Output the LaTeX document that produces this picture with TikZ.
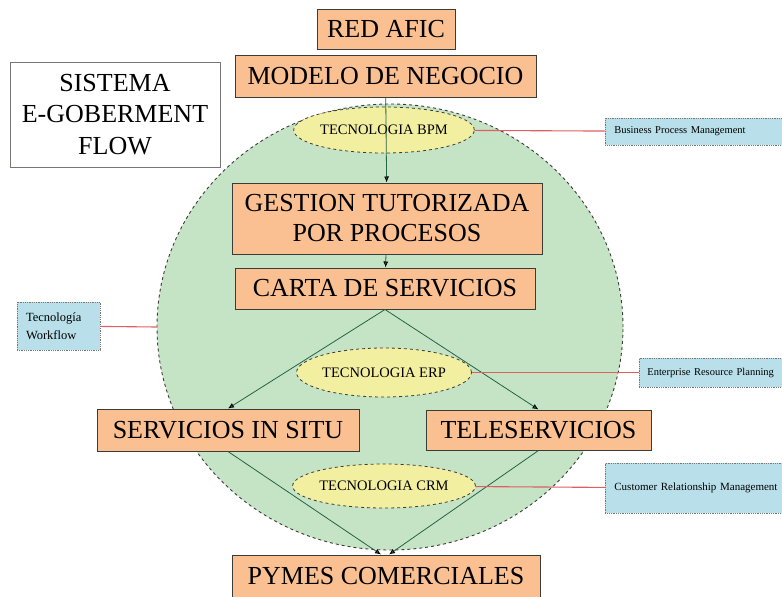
\documentclass[tikz,border=0pt]{standalone}
\usepackage{fontspec}
\setmainfont{Liberation Serif}
\usepackage{tikz}
\usetikzlibrary{shapes.geometric}
\usetikzlibrary{arrows.meta}
\definecolor{o}{RGB}{250,192,146}
\definecolor{v}{RGB}{196,228,197}
\definecolor{a}{RGB}{243,239,160}
\definecolor{c}{RGB}{185,224,234}
\definecolor{r}{RGB}{222,95,95}
\definecolor{f}{RGB}{38,98,70}
\definecolor{n}{RGB}{60,60,55}
\tikzstyle{caja}=[draw=n,line width=1pt,fill=o,inner sep=0pt,font=\fontsize{26}{31}\selectfont]
\tikzstyle{tecno}=[ellipse,draw=n,dashed,line width=0.8pt,fill=a,inner sep=0pt,minimum width=168pt,font=\fontsize{14.5}{17}\selectfont]
\tikzstyle{nota}=[draw=n!70,densely dotted,line width=0.8pt,fill=c,inner xsep=9pt,inner ysep=0pt,align=left,font=\fontsize{10.5}{13}\selectfont]
\tikzstyle{enlace}=[-,draw=r,line width=1.1pt]

\begin{document}
\begin{tikzpicture}[->,>={Latex[length=6pt,width=5pt,color=black]},x=1pt,y=-1pt,line width=0.8pt]
	\useasboundingbox (0,0) rectangle (782,597);
	\clip (0,0) rectangle (782,597);
	\node[ellipse,draw=n,dashed,line width=0.9pt,fill=v,inner sep=0pt,minimum width=466pt,minimum height=446pt] (circ) at (390,327) {};

	\node[draw=n!70,fill=white,inner sep=0pt,minimum width=210pt,minimum height=105pt,align=center,font=\fontsize{26}{31.5}\selectfont] (sis) at (115,114.5) {SISTEMA\\E-GOBERMENT\\FLOW};

	\node[caja,minimum width=138pt,minimum height=40pt] (red) at (386,29.5) {RED AFIC};
	\node[caja,minimum width=301pt,minimum height=42pt] (mod) at (385.5,76) {MODELO DE NEGOCIO};
	\node[tecno,minimum height=46pt] (bpm) at (384,130) {TECNOLOGIA BPM};
	\node[caja,minimum width=310pt,minimum height=71pt,align=center,font=\fontsize{26}{30}\selectfont] (ges) at (387,218.5) {GESTION TUTORIZADA\\POR PROCESOS};
	\node[caja,minimum width=300pt,minimum height=41pt] (car) at (385,288.5) {CARTA DE SERVICIOS};
	\node[tecno,minimum height=49pt] (erp) at (384,372.5) {TECNOLOGIA ERP};
	\node[caja,minimum width=262pt,minimum height=42pt] (sit) at (228,430) {SERVICIOS IN SITU};
	\node[caja,minimum width=225pt,minimum height=40pt] (tel) at (538.5,430) {TELESERVICIOS};
	\node[tecno,minimum height=44pt] (crm) at (384,486) {TECNOLOGIA CRM};
	\node[caja,minimum width=308pt,minimum height=42pt] (pym) at (386,576) {PYMES COMERCIALES};
	\coordinate (pi) at ([xshift=-5pt]pym.north);
	\coordinate (pd) at ([xshift=3pt]pym.north);

	% notas
	\node[nota,anchor=west,text width=170pt,minimum height=27pt] (nbpm) at (605,131.5) {Business Process Management};
	\node[nota,text width=65pt,minimum height=48pt,inner xsep=9pt,font=\fontsize{12.5}{18}\selectfont] (nwf) at (58.5,326) {Tecnología\\Workflow};
	\node[nota,anchor=west,text width=150pt,minimum height=29pt,inner xsep=8pt] (nerp) at (639,372.5) {Enterprise Resource Planning};
	\node[nota,anchor=west,text width=170pt,minimum height=50pt,font=\fontsize{11}{13}\selectfont] (ncrm) at (605,488) {Customer Relationship Management};

	\path[color=f]
		(mod)	edge	(ges)
		(ges)	edge	(car)
		(car.south)	edge	(sit.north)
		(car.south)	edge	(tel.north)
		(sit.south)	edge	(pi)
		(tel.south)	edge	(pd);
	\path
		(bpm)	edge[enlace]	(nbpm)
		(nwf)	edge[enlace]	(circ.west)
		(erp)	edge[enlace]	(nerp)
		(crm)	edge[enlace]	(ncrm);
\end{tikzpicture}
\end{document}
